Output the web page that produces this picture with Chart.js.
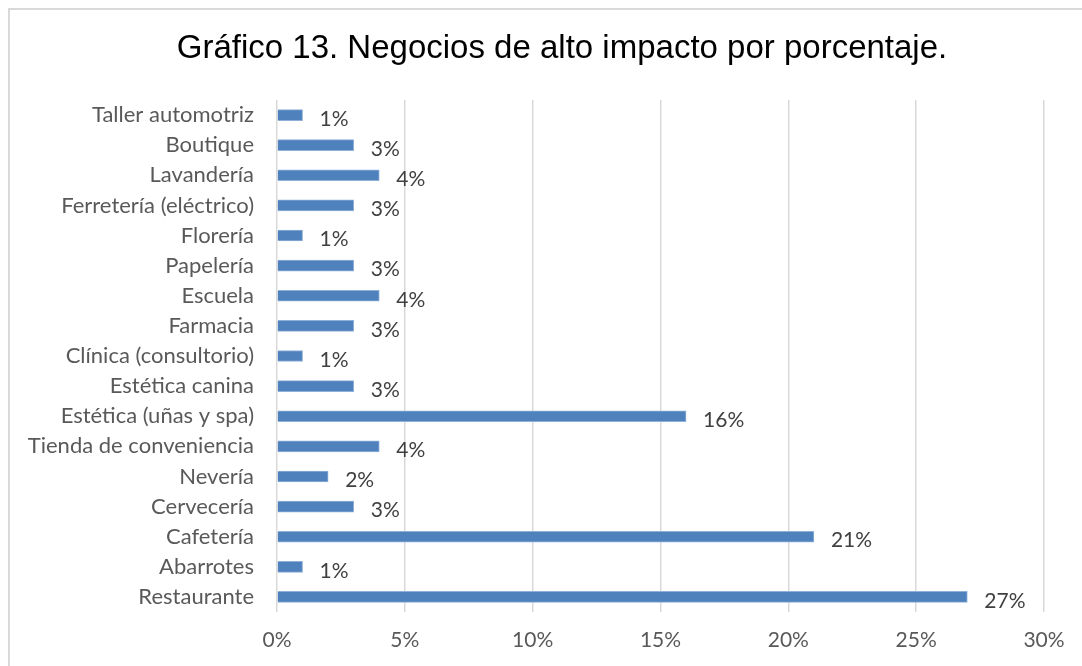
<!DOCTYPE html>
<html>
<head>
<meta charset="utf-8">
<script src="https://cdn.jsdelivr.net/npm/chart.js@4/dist/chart.umd.min.js"></script>
<style>
html,body{margin:0;padding:0;background:#fff;}
#wrap{width:1082px;height:666px;position:relative;}
</style>
</head>
<body>
<div id="wrap"><canvas id="c" width="1082" height="666"></canvas></div>
<script>
const titleText = "Gráfico 13. Negocios de alto impacto por porcentaje.";
const categories = ["Taller automotriz","Boutique","Lavandería","Ferretería (eléctrico)","Florería","Papelería","Escuela","Farmacia","Clínica (consultorio)","Estética canina","Estética (uñas y spa)","Tienda de conveniencia","Nevería","Cervecería","Cafetería","Abarrotes","Restaurante"];
const values = [1,3,4,3,1,3,4,3,1,3,16,4,2,3,21,1,27];
const xMin = 0, xMax = 30, xStep = 5;

const labelFont = "Lato, 'Open Sans', sans-serif";

const framePlugin = {
  id: 'frame',
  beforeDraw(chart) {
    const ctx = chart.ctx;
    ctx.save();
    ctx.fillStyle = '#fff';
    ctx.fillRect(0,0,chart.width,chart.height);
    ctx.strokeStyle = '#D9D9D9';
    ctx.lineWidth = 2;
    ctx.strokeRect(9, 9, 1200, 1000);
    ctx.fillStyle = '#000';
    ctx.font = "33px 'Liberation Sans', Arial, sans-serif";
    ctx.textAlign = 'center';
    ctx.textBaseline = 'middle';
    ctx.fillText(titleText, 562, 49);
    ctx.restore();
  }
};

const dataLabelPlugin = {
  id: 'dlabels',
  afterDatasetsDraw(chart) {
    const ctx = chart.ctx;
    const meta = chart.getDatasetMeta(0);
    ctx.save();
    ctx.fillStyle = '#404040';
    ctx.font = "21px " + labelFont;
    ctx.textAlign = 'left';
    ctx.textBaseline = 'middle';
    meta.data.forEach((bar, i) => {
      ctx.fillText(values[i] + '%', bar.x + 17, bar.y + 4);
    });
    ctx.restore();
  }
};

new Chart(document.getElementById('c'), {
  type: 'bar',
  data: {
    labels: categories,
    datasets: [{
      data: values,
      backgroundColor: '#4F81BD',
      borderColor: '#8FB0D9',
      borderWidth: 1,
      barThickness: 11
    }]
  },
  options: {
    indexAxis: 'y',
    responsive: false,
    animation: false,
    layout: { padding: { top: 100, right: 38, left: 0, bottom: 0 } },
    plugins: { legend: { display: false }, tooltip: { enabled: false }, title: { display: false } },
    scales: {
      x: {
        min: xMin, max: xMax,
        ticks: { stepSize: xStep, callback: v => v + '%', color: '#595959', font: { family: labelFont, size: 21 }, padding: 16 },
        grid: { color: '#D9D9D9', lineWidth: 1.5, drawTicks: false },
        border: { display: false },
        afterFit(s) { s.height = 54; }
      },
      y: {
        ticks: { color: '#595959', font: { family: labelFont, size: 22 }, padding: 23, autoSkip: false },
        grid: { display: false, drawTicks: false },
        border: { display: false },
        afterFit(s) { s.width = 277; }
      }
    }
  },
  plugins: [framePlugin, dataLabelPlugin]
});
</script>
</body>
</html>
